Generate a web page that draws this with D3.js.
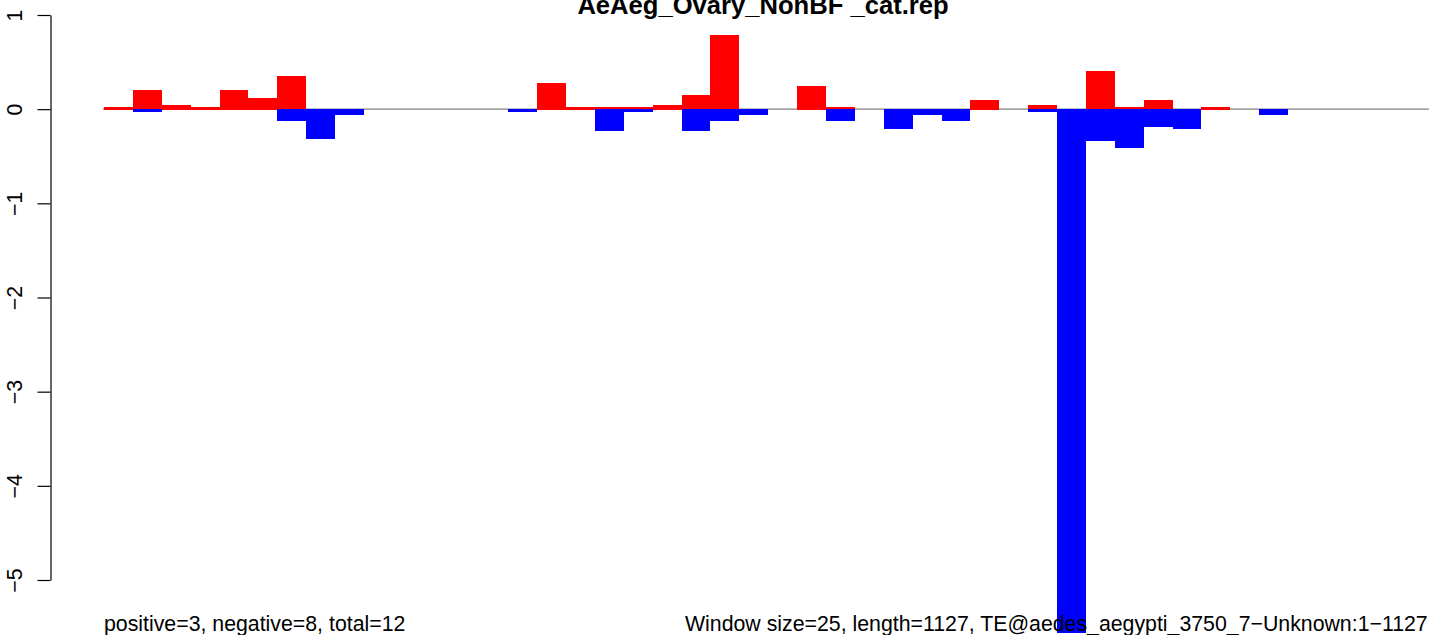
<!DOCTYPE html>
<html>
<head>
<meta charset="utf-8">
<script src="https://cdn.jsdelivr.net/npm/d3@7"></script>
<style>
  html, body { margin: 0; padding: 0; background: #fff; }
  svg { display: block; font-family: "Liberation Sans", Arial, Helvetica, sans-serif; }
</style>
</head>
<body>
<svg id="chart" width="1429" height="635"></svg>
<script>
// ---- data ----
const windows = d3.range(46); // window index (46 windows of 25 bp over 1127 bp)
const positive = [0.025, 0.20, 0.045, 0.022, 0.20, 0.12, 0.35, 0, 0, 0,
                  0, 0, 0, 0, 0, 0.28, 0.022, 0.022, 0.022, 0.045,
                  0.15, 0.79, 0, 0, 0.245, 0.022, 0, 0, 0, 0,
                  0.10, 0, 0.045, 0, 0.41, 0.022, 0.10, 0, 0.022, 0,
                  0, 0, 0, 0, 0, 0];
const negative = [0, -0.03, 0, 0, 0, 0, -0.13, -0.32, -0.06, 0,
                  0, 0, 0, 0, -0.03, 0, 0, -0.23, -0.03, 0,
                  -0.23, -0.13, -0.06, 0, 0, -0.13, 0, -0.21, -0.06, -0.13,
                  0, 0, -0.03, -5.56, -0.34, -0.41, -0.19, -0.21, 0, 0,
                  -0.06, 0, 0, 0, 0, 0];
const yTicks = [-5, -4, -3, -2, -1, 0, 1];
const titleText = "AeAeg_Ovary_NonBF _cat.rep";
const leftNote = "positive=3, negative=8, total=12";
const rightNote = "Window size=25, length=1127, TE@aedes_aegypti_3750_7\u2212Unknown:1\u22121127";

// ---- layout ----
const svg = d3.select("#chart");
svg.append("rect").attr("width", 1429).attr("height", 635).attr("fill", "#fff");

const barW = 28.88;
const x = d3.scaleBand().domain(windows).range([104, 104 + windows.length * barW]).padding(0);
const y = d3.scaleLinear().domain([-5, 1]).range([580, 15]);

// zero line
svg.append("line")
  .attr("x1", 103).attr("x2", 1429)
  .attr("y1", y(0)).attr("y2", y(0))
  .attr("stroke", "#808080").attr("stroke-width", 1.2);

// positive bars
svg.append("g").selectAll("rect")
  .data(windows.filter(i => positive[i] !== 0))
  .join("rect")
  .attr("x", i => x(i))
  .attr("width", x.bandwidth())
  .attr("y", i => y(positive[i]))
  .attr("height", i => y(0) - y(positive[i]) + 0.5)
  .attr("fill", "#ff0000")
  .attr("shape-rendering", "crispEdges");

// negative bars
svg.append("g").selectAll("rect")
  .data(windows.filter(i => negative[i] !== 0))
  .join("rect")
  .attr("x", i => x(i))
  .attr("width", x.bandwidth())
  .attr("y", y(0))
  .attr("height", i => y(negative[i]) - y(0))
  .attr("fill", "#0000ff")
  .attr("shape-rendering", "crispEdges");

// y axis
const yAxis = svg.append("g")
  .attr("transform", "translate(50.5,0)")
  .call(d3.axisLeft(y).tickValues(yTicks).tickSize(13).tickSizeOuter(0).tickFormat(d3.format("d")));
yAxis.select(".domain").attr("stroke", "#000").attr("stroke-width", 1.2);
yAxis.selectAll(".tick line").attr("stroke", "#000").attr("stroke-width", 1.2);
yAxis.selectAll(".tick text")
  .attr("x", null).attr("dy", null)
  .attr("transform", "translate(-29,0) rotate(-90)")
  .attr("text-anchor", "middle")
  .attr("font-size", 21.3)
  .attr("font-family", "'Liberation Sans', Arial, Helvetica, sans-serif")
  .attr("fill", "#000");

// title
svg.append("text")
  .attr("x", 763).attr("y", 14)
  .attr("text-anchor", "middle")
  .attr("font-weight", "bold")
  .attr("font-size", 25.6)
  .attr("fill", "#000")
  .text(titleText);

// bottom notes
svg.append("text")
  .attr("x", 104).attr("y", 631)
  .attr("font-size", 21.3).attr("fill", "#000")
  .text(leftNote);
svg.append("text")
  .attr("x", 685).attr("y", 631)
  .attr("font-size", 21.3).attr("fill", "#000")
  .text(rightNote);
</script>
</body>
</html>
